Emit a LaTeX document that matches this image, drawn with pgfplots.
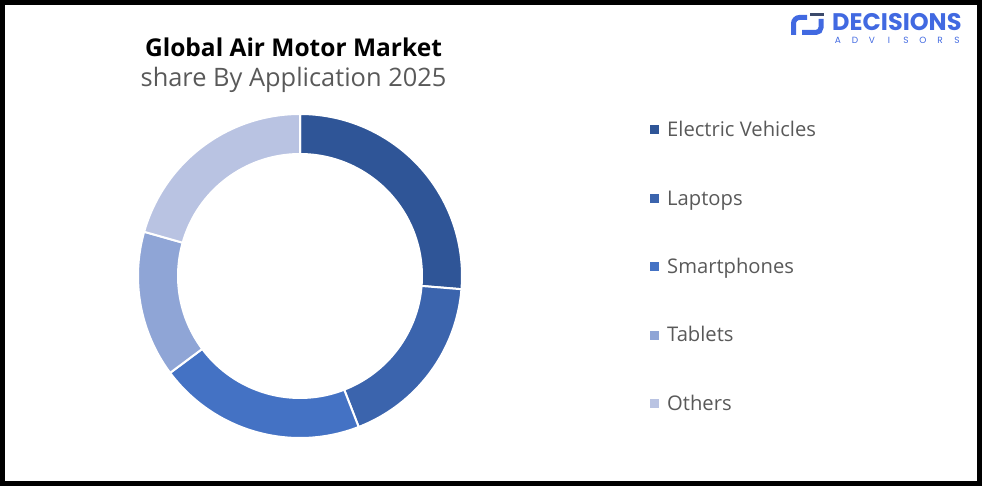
\documentclass[border=0pt]{standalone}
\usepackage{pgfplots}
\pgfplotsset{compat=1.18}
\usepackage{pgfplotstable}
\usepackage{fontspec}
\setmainfont{Open Sans}
\newfontfamily\logofont{Poppins}
\definecolor{cEV}{HTML}{2F5597}
\definecolor{cLap}{HTML}{3B64AD}
\definecolor{cSma}{HTML}{4472C4}
\definecolor{cTab}{HTML}{8FA5D6}
\definecolor{cOth}{HTML}{B9C3E2}
\definecolor{txtgray}{HTML}{595959}
\definecolor{logoblue}{HTML}{4169E1}
\definecolor{logodark}{HTML}{3B4A6B}
\pgfplotstableread{
label value color
{Electric Vehicles} 26.3 cEV
Laptops 17.8 cLap
Smartphones 20.7 cSma
Tablets 14.6 cTab
Others 20.6 cOth
}\sharetable
\begin{document}
\begin{tikzpicture}
\begin{axis}[width=982pt,height=486pt,scale only axis,xmin=0,xmax=982,ymin=0,ymax=486,hide axis,clip=false]
\pgfplotsextra{
  \xdef\cum{0}
  \pgfplotstablegetrowsof{\sharetable}
  \pgfmathtruncatemacro\nrows{\pgfplotsretval-1}
  \foreach \i in {0,...,\nrows}{
    \pgfplotstablegetelem{\i}{value}\of{\sharetable}\let\val\pgfplotsretval
    \pgfplotstablegetelem{\i}{color}\of{\sharetable}\let\col\pgfplotsretval
    \pgfplotstablegetelem{\i}{label}\of{\sharetable}\let\lab\pgfplotsretval
    \pgfmathsetmacro\aS{90-3.6*\cum}
    \pgfmathsetmacro\aE{90-3.6*(\cum+\val)}
    \fill[fill=\col,draw=white,line width=2pt]
      (axis cs:{300+162*cos(\aS)},{210+162*sin(\aS)})
      arc[start angle=\aS,end angle=\aE,radius=162pt]
      -- (axis cs:{300+122*cos(\aE)},{210+122*sin(\aE)})
      arc[start angle=\aE,end angle=\aS,radius=122pt] -- cycle;
    \fill[fill=\col] (axis cs:649.5,{356-68.4*\i-4.5}) rectangle (axis cs:658.5,{356-68.4*\i+4.5});
    \node[anchor=base west,text=txtgray,font=\fontsize{20.2}{24}\selectfont,inner sep=0pt] at (axis cs:667,{349.3-68.4*\i}) {\lab};
    \pgfmathsetmacro\newcum{\cum+\val}
    \xdef\cum{\newcum}
  }
  \node[font=\bfseries\fontsize{24.5}{28}\selectfont,inner sep=0pt] at (axis cs:293.5,439) {Global Air Motor Market};
  \node[font=\fontsize{25.4}{29}\selectfont,text=txtgray,inner sep=0pt] at (axis cs:293.5,406) {share By Application 2025};
  % logo
  \draw[logoblue,line width=5pt,rounded corners=6pt] (axis cs:807,468.5) -- (axis cs:793.5,468.5) -- (axis cs:793.5,451);
  \draw[logodark,line width=3.5pt] (axis cs:810,471.7) -- (axis cs:824,471.7);
  \draw[logoblue,line width=5pt,rounded corners=5pt] (axis cs:821,467) -- (axis cs:821,453.5) -- (axis cs:802,453.5);
  \node[anchor=west,inner sep=0pt,text=logoblue,font=\logofont\bfseries\fontsize{24}{26}\selectfont] at (axis cs:832,463.5) {DECISIONS};
  \foreach \L [count=\k from 0] in {A,D,V,I,S,O,R,S}{
    \node[inner sep=0pt,text=logoblue,font=\logofont\fontsize{9}{10}\selectfont] at (axis cs:{838+17*\k},445.5) {\L};
  }
  \draw[black,line width=5pt] (axis cs:2.5,2.5) rectangle (axis cs:979.5,483.5);
}
\end{axis}
\end{tikzpicture}
\end{document}
